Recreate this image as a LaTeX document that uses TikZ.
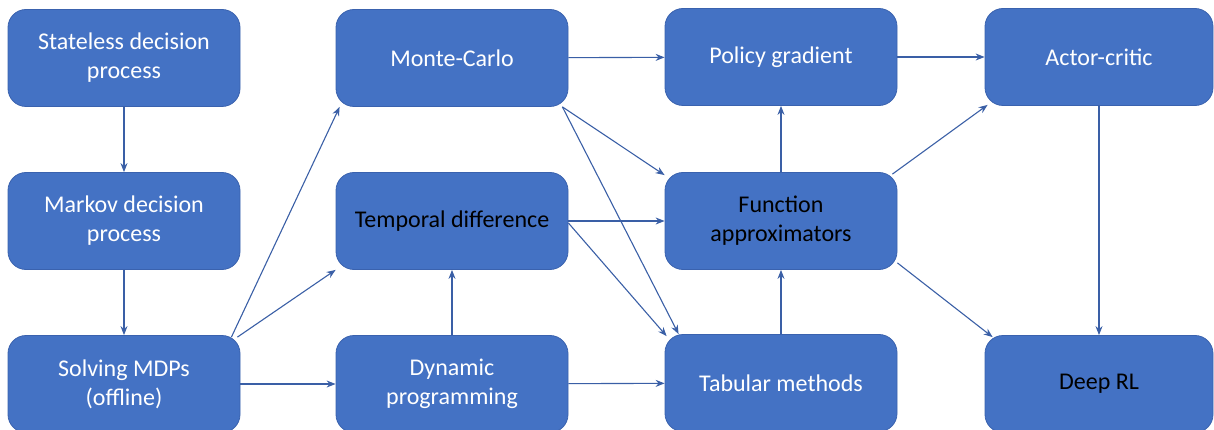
\documentclass[tikz,border=0pt]{standalone}
\usepackage{fontspec}
\setmainfont{Carlito}
\usepackage{xcolor}
\usetikzlibrary{shapes.geometric, arrows, arrows.meta}
\usetikzlibrary{positioning}
\definecolor{boxblue}{HTML}{4472C4}
\definecolor{boxline}{HTML}{3A62AE}
\definecolor{linkblue}{HTML}{3A5FA6}
\tikzstyle{stage} = [rectangle, rounded corners=18pt, minimum width=232pt, minimum height=97pt, align=center, fill=boxblue, draw=boxline, line width=0.8pt, text=white, font=\fontsize{24}{29}\selectfont]
\tikzstyle{darktext} = [text=black]
\tikzstyle{arrow} = [line width=1.1pt, draw=linkblue, -{Stealth[length=9pt,width=7pt]}]

\begin{document}
\begin{tikzpicture}[x=1pt, y=1pt, node distance=163pt]
    \useasboundingbox (0,0) rectangle (1214,-430);
    % first column
    \node (sdp) [stage] at (124,-58) {Stateless decision\\process};
    \node (mdp) [stage, below of = sdp] {Markov decision\\process};
    \node (smdp) [stage, below of = mdp] {Solving MDPs\\(offline)};
    % second column
    \node (mc) [stage, node distance=328pt, right of = sdp] {Monte-Carlo};
    \node (td) [stage, darktext, node distance=328pt, right of = mdp] {Temporal difference};
    \node (dp) [stage, node distance=328pt, right of = smdp] {Dynamic\\programming};
    % third column
    \node (pg) [stage, node distance=329pt, right of = mc, yshift=1pt] {Policy gradient};
    \node (fa) [stage, darktext, node distance=329pt, right of = td] {Function\\approximators};
    \node (tm) [stage, node distance=329pt, right of = dp, yshift=1pt] {Tabular methods};
    % fourth column
    \node (ac) [stage, minimum width=228pt, node distance=318pt, right of = pg] {Actor-critic};
    \node (drl) [stage, darktext, minimum width=228pt, node distance=318pt, right of = tm, yshift=-1pt] {Deep RL};

    \draw [arrow] (sdp) -- (mdp);
    \draw [arrow] (mdp) -- (smdp);
    \draw [arrow] ([xshift=-9pt,yshift=-2pt]smdp.north east) -- ([xshift=4pt]mc.south west);
    \draw [arrow] ([xshift=-3pt,yshift=-2pt]smdp.north east) -- (td.south west);
    \draw [arrow] (smdp) -- (dp);
    \draw [arrow] (dp) -- (td);
    \draw [arrow] (mc) -- (pg);
    \draw [arrow] ([xshift=-6pt]mc.south east) -- ([yshift=-3pt]fa.north west);
    \draw [arrow] ([xshift=-6pt]mc.south east) -- ([xshift=14pt]tm.north west);
    \draw [arrow] (td) -- (fa);
    \draw [arrow] ([yshift=-2pt]td.east) -- ([xshift=2pt,yshift=-2pt]tm.north west);
    \draw [arrow] (dp) -- (tm);
    \draw [arrow] (tm) -- (fa);
    \draw [arrow] (fa) -- (pg);
    \draw [arrow] (pg) -- (ac);
    \draw [arrow] ([xshift=-5pt,yshift=-2pt]fa.north east) -- ([xshift=3pt,yshift=1pt]ac.south west);
    \draw [arrow] ([yshift=7pt]fa.south east) -- ([xshift=8pt,yshift=-2pt]drl.north west);
    \draw [arrow] (ac) -- (drl);
\end{tikzpicture}
\end{document}
